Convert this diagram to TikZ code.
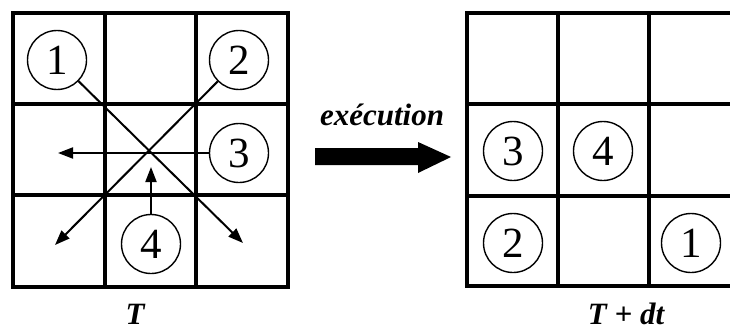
\documentclass[tikz,border=0pt]{standalone}
\usepackage{fontspec}
\setmainfont{Liberation Serif}
\usetikzlibrary{arrows.meta}
\begin{document}
\begin{tikzpicture}[x=1pt,y=1pt,
  gridline/.style={line width=3.6pt},
  token/.style={circle,draw,line width=1.4pt,minimum size=59pt,inner sep=0pt,fill=white,
    font=\fontsize{43}{43}\selectfont},
  move/.style={line width=2pt,-{Triangle[length=15pt,width=11pt]}},
  lbl/.style={font=\fontsize{31}{32}\selectfont\bfseries\itshape}]
\useasboundingbox (0,0) rectangle (730,333);
% left grid
\draw[gridline] (13,46) rectangle (288,320);
\draw[gridline] (105,46) -- (105,320) (196,46) -- (196,320);
\draw[gridline] (13,229) -- (288,229) (13,138) -- (288,138);
% right grid (clipped at the picture edge)
\begin{scope}
\clip (0,0) rectangle (730,333);
\draw[gridline] (467,47) rectangle (741,320);
\draw[gridline] (558,47) -- (558,320) (649,47) -- (649,320);
\draw[gridline] (467,229) -- (741,229) (467,137) -- (741,137);
\end{scope}
% end points of the moves
\coordinate (e1) at (243,90);
\coordinate (e2) at (55,88);
\coordinate (e3) at (58,180);
\coordinate (e4) at (151,166);
% tokens at time T
\node[token] (a1) at (57,273) {1};
\node[token] (a2) at (239,273) {2};
\node[token] (a3) at (239,180) {3};
\node[token] (a4) at (151,89) {4};
\draw[move] (a1) -- (e1);
\draw[move] (a2) -- (e2);
\draw[move] (a3) -- (e3);
\draw[move] (a4) -- (e4);
% tokens at time T+dt
\node[token] (b3) at (513,182) {3};
\node[token] (b4) at (603,182) {4};
\node[token] (b2) at (513,90) {2};
\node[token] (b1) at (691,90) {1};
% execution arrow
\fill (315,168) -- (418,168) -- (418,160) -- (451,176) -- (418,191) -- (418,185) -- (315,185) -- cycle;
\node[lbl] (ex) at (382,218) {exécution};
% labels
\node[lbl,anchor=base,inner sep=0pt] (t0) at (135,9) {T};
\node[lbl,anchor=base,inner sep=0pt] (t1) at (626,9) {T + dt};
\end{tikzpicture}
\end{document}
